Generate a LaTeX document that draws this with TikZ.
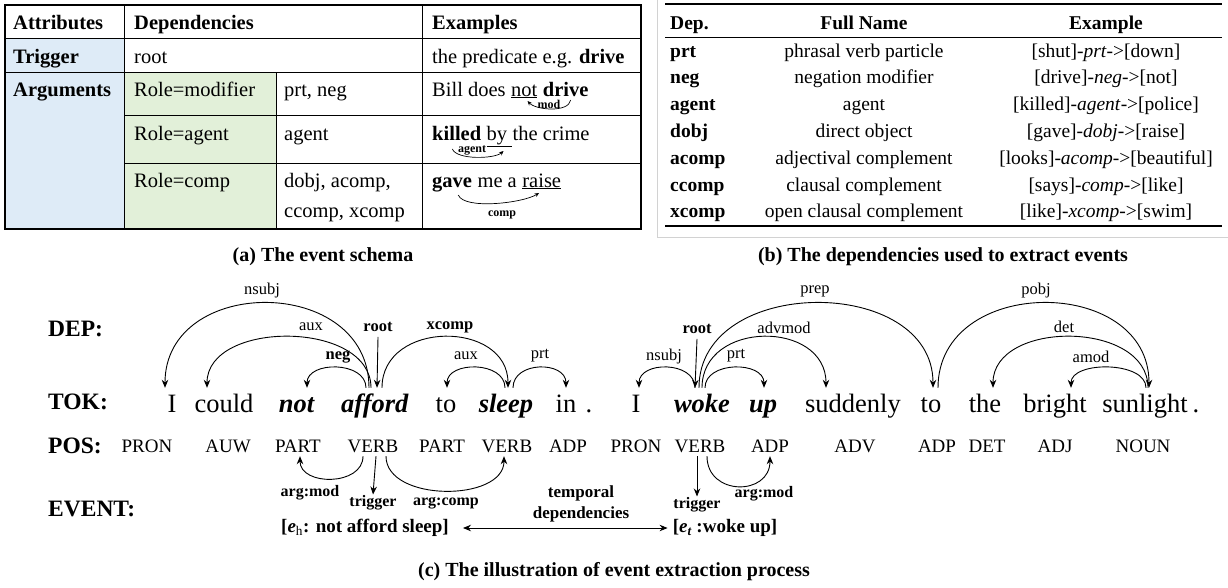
\documentclass[tikz,border=0pt]{standalone}
\usepackage{fontspec}
\setmainfont{Liberation Serif}
\usetikzlibrary{arrows.meta}
\definecolor{attrblue}{RGB}{222,235,247}
\definecolor{rolegreen}{RGB}{226,240,217}
\newcommand{\bfit}[1]{\textbf{\textit{#1}}}

\begin{document}
\begin{tikzpicture}[x=1pt, y=-1pt,
    cell/.style={anchor=base west, inner sep=0pt, font=\fontsize{20.5}{24}\selectfont},
    cellb/.style={cell, font=\bfseries\fontsize{20.5}{24}\selectfont},
    tb/.style={anchor=base, inner sep=0pt, font=\fontsize{19.5}{23}\selectfont},
    caption/.style={inner sep=0pt, font=\bfseries\fontsize{20}{24}\selectfont},
    rowlab/.style={anchor=west, inner sep=0pt, font=\bfseries\fontsize{23.5}{27}\selectfont},
    tok/.style={anchor=base, inner sep=0pt, text height=24pt, text depth=6pt, font=\fontsize{26.5}{30}\selectfont},
    postag/.style={anchor=base, inner xsep=0pt, inner ysep=4pt, text height=13pt, text depth=0pt, font=\fontsize{19}{22}\selectfont},
    arclab/.style={inner sep=1pt, font=\fontsize{16.5}{19}\selectfont},
    arclabb/.style={arclab, font=\bfseries\fontsize{16.5}{19}\selectfont},
    evlab/.style={inner sep=1pt, font=\bfseries\fontsize{16}{19}\selectfont},
    minlab/.style={inner sep=0pt, font=\bfseries\fontsize{12}{14}\selectfont},
    dep/.style={-{Stealth[length=8pt,width=6.5pt]}, line width=0.9pt},
    minarc/.style={-{Stealth[length=4.5pt,width=4pt]}, line width=0.7pt},
  ]
\useasboundingbox (0,0) rectangle (1228,587);

% (a) the event schema
\fill[attrblue] (5,38) rectangle (124,229);
\fill[rolegreen] (124,72) rectangle (276,229);
\draw[line width=1pt] (5,38) -- (641,38) (5,72) -- (641,72) (124,115) -- (641,115) (124,163) -- (641,163);
\draw[line width=1pt] (124,5) -- (124,229) (422,5) -- (422,229) (276,72) -- (276,229);
\draw[line width=1.3pt] (5,5) rectangle (641,229);

\node[cellb] (attr) at (13,29) {Attributes};
\node[cellb] (deps) at (134,29) {Dependencies};
\node[cellb] (exs) at (432,29) {Examples};
\node[cellb] (trig) at (13,63) {Trigger};
\node[cell] (rootdep) at (134,63) {root};
\node[cell] (pred) at (432,63) {the predicate e.g. \textbf{drive}};
\node[cellb] (args) at (13,96) {Arguments};
\node[cell] (rmod) at (134,96) {Role=modifier};
\node[cell] (dmod) at (284,96) {prt, neg};
\node[cell] (ragent) at (134,140) {Role=agent};
\node[cell] (dagent) at (284,140) {agent};
\node[cell] (rcomp) at (134,187) {Role=comp};
\node[cell] (dcompa) at (284,187) {dobj, acomp,};
\node[cell] (dcompb) at (284,217) {ccomp, xcomp};

\node[cell] (exa) at (432,96) {Bill does};
\node[cell] (exb) at (exa.base east) {\ \underline{not}};
\node[cell] (exc) at (exb.base east) {\ \textbf{drive}};
\node[minlab] (modlab) at (549,104) {mod};
\draw[minarc] ([xshift=-18pt,yshift=-4pt]exc.base east) .. controls +(-2,13) and +(8,9) .. ([xshift=-10pt,yshift=-5pt]exb.base east);

\node[cell] (exd) at (432,140) {\textbf{killed}};
\node[cell] (exe) at (exd.base east) {\ \underline{by\ }};
\node[cell] (exf) at (exe.base east) {the crime};
\node[minlab] (agentlab) at (472,150) {agent};
\draw[minarc] ([xshift=-29pt,yshift=-9pt]exd.base east) .. controls +(4,11) and +(-9,8) .. ([xshift=-9pt,yshift=-11pt]exe.base east);

\node[cell] (exg) at (432,187) {\textbf{gave}};
\node[cell] (exh) at (exg.base east) {\ me a};
\node[cell] (exi) at (exh.base east) {\ \underline{raise}};
\node[minlab] (complab) at (502,215) {comp};
\draw[minarc] ([xshift=-14pt,yshift=-8pt]exg.base east) .. controls +(6,15) and +(-16,10) .. ([xshift=22pt,yshift=-6pt]exi.base west);

\node[caption] (capa) at (323,257) {(a) The event schema};

% (b) the dependencies
\draw[gray!35] (657,-2) -- (657,237) -- (1230,237);
\draw[line width=1.6pt] (665,4) -- (1222,4) (665,226) -- (1222,226);
\draw[line width=0.8pt] (665,37) -- (1222,37);
\node[tb, anchor=base west, font=\bfseries\fontsize{19.5}{23}\selectfont] (hdep) at (670,29) {Dep.};
\node[tb, font=\bfseries\fontsize{19.5}{23}\selectfont] (hname) at (864,29) {Full Name};
\node[tb, font=\bfseries\fontsize{19.5}{23}\selectfont] (hex) at (1106,29) {Example};
\foreach \d/\f/\e [count=\i] in {
    prt/phrasal verb particle/{[shut]-\textit{prt}->[down]},
    neg/negation modifier/{[drive]-\textit{neg}->[not]},
    agent/agent/{[killed]-\textit{agent}->[police]},
    dobj/direct object/{[gave]-\textit{dobj}->[raise]},
    acomp/adjectival complement/{[looks]-\textit{acomp}->[beautiful]},
    ccomp/clausal complement/{[says]-\textit{comp}->[like]},
    xcomp/open clausal complement/{[like]-\textit{xcomp}->[swim]}}{
  \node[tb, anchor=base west, font=\bfseries\fontsize{19.5}{23}\selectfont] (d\i) at (670,{30.2+26.8*\i}) {\d};
  \node[tb] (f\i) at (864,{30.2+26.8*\i}) {\f};
  \node[tb] (e\i) at (1106,{30.2+26.8*\i}) {\e};
}

\node[caption] (capb) at (943,257) {(b) The dependencies used to extract events};

% (c) event extraction
\node[rowlab] (ldep) at (48,329) {DEP:};
\node[rowlab] (ltok) at (48,402) {TOK:};
\node[rowlab] (lpos) at (48,446) {POS:};
\node[rowlab] (levent) at (48,509) {EVENT:};

\foreach \nm/\x/\w in {i1/172/I, could/224/could, not/297/\bfit{not}, afford/375/\bfit{afford},
    to1/446/to, sleep/506/\bfit{sleep}, in/566/in, dot1/589/., i2/636/I, woke/702/\bfit{woke},
    up/763/\bfit{up}, suddenly/853/suddenly, to2/931/to, the/985/the, bright/1055/bright,
    sunlight/1145/sunlight, dot2/1196/.}
  \node[tok] (\nm) at (\x,412) {\w};

\foreach \nm/\x/\w in {pron1/147/PRON, auw/228/AUW, part1/298/PART, verb1/373/VERB,
    part2/442/PART, verb2/507/VERB, adp1/568/ADP, pron2/636/PRON, verb3/700/VERB,
    adp2/770/ADP, adv/855/ADV, adp3/937/ADP, det/987/DET, adj/1055/ADJ, noun/1143/NOUN}
  \node[postag] (\nm) at (\x,452) {\w};

% dependency arcs
\foreach \a/\ax/\b/\bx/\h in {afford/-6/i1/-7/113, afford/-4/could/-17/68, afford/-9/not/10/27,
    afford/7/sleep/2/68, sleep/-1/to1/1/27, sleep/7/in/0/27,
    woke/-7/i2/3/27, woke/3/up/1/27, woke/0/suddenly/-27/68, woke/-3/to2/2/113,
    to2/7/sunlight/4/113, sunlight/3/the/8/68, sunlight/1/bright/16/27}
  \draw[dep] ([xshift=\ax pt]\a.north) .. controls +(0,-\h) and +(0,-\h) .. ([xshift=\bx pt]\b.north);

\node[arclab] (lnsubja) at (262,291) {nsubj};
\node[arclab] (lauxa) at (311,327) {aux};
\node[arclabb] (lroota) at (378,327) {root};
\node[arclabb] (lxcomp) at (450,327) {xcomp};
\node[arclabb] (lneg) at (338,357) {neg};
\node[arclab] (lauxb) at (466,356) {aux};
\node[arclab] (lprta) at (540,356) {prt};
\node[arclab] (lnsubjb) at (664,357) {nsubj};
\node[arclabb] (lrootb) at (697,329) {root};
\node[arclab] (lprtb) at (736,356) {prt};
\node[arclab] (ladvmod) at (784,328) {advmod};
\node[arclab] (lprep) at (815,291) {prep};
\node[arclab] (lpobj) at (1036,291) {pobj};
\node[arclab] (ldet) at (1064,327) {det};
\node[arclab] (lamod) at (1091,357) {amod};
\draw[dep] ([yshift=-4pt]lroota.south) -- ([xshift=2pt]afford.north);
\draw[dep] ([yshift=-4pt]lrootb.south) -- ([xshift=-7pt]woke.north);

% event arcs
\node[evlab] (gmoda) at (310,493) {arg:mod};
\node[evlab] (trga) at (373,503) {trigger};
\node[evlab] (gcomp) at (446,503) {arg:comp};
\node[evlab] (trgb) at (697,505) {trigger};
\node[evlab] (gmodb) at (764,494) {arg:mod};
\draw[dep] ([xshift=-10pt]verb1.south) .. controls +(0,30) and +(0,30) .. ([xshift=2pt]part1.south);
\draw[dep] ([xshift=3pt]verb1.south) -- (trga.north);
\draw[dep] ([xshift=13pt]verb1.south) .. controls +(0,46) and +(0,46) .. ([xshift=-3pt]verb2.south);
\draw[dep] ([xshift=-3pt]verb3.south) -- (trgb.north);
\draw[dep] ([xshift=7pt]verb3.south) .. controls +(0,40) and +(0,40) .. (adp2.south);

\node[inner sep=0pt, font=\bfseries\fontsize{19}{22}\selectfont] (evh) at (365,528) {[\textit{e}\textsubscript{\mdseries h}: not afford sleep]};
\node[inner sep=0pt, font=\bfseries\fontsize{19}{22}\selectfont] (evt) at (725,528) {[\textit{e\textsubscript{t}} :woke up]};
\node[evlab, align=center, font=\bfseries\fontsize{17}{21}\selectfont] (temp) at (581,504) {temporal\\dependencies};
\draw[{Stealth[length=8pt,width=6.5pt]}-{Stealth[length=8pt,width=6.5pt]}, line width=0.9pt, shorten <=14pt, shorten >=5pt] (evh.east) -- (evt.west);

\node[caption] (capc) at (614,572) {(c) The illustration of event extraction process};
\end{tikzpicture}
\end{document}
